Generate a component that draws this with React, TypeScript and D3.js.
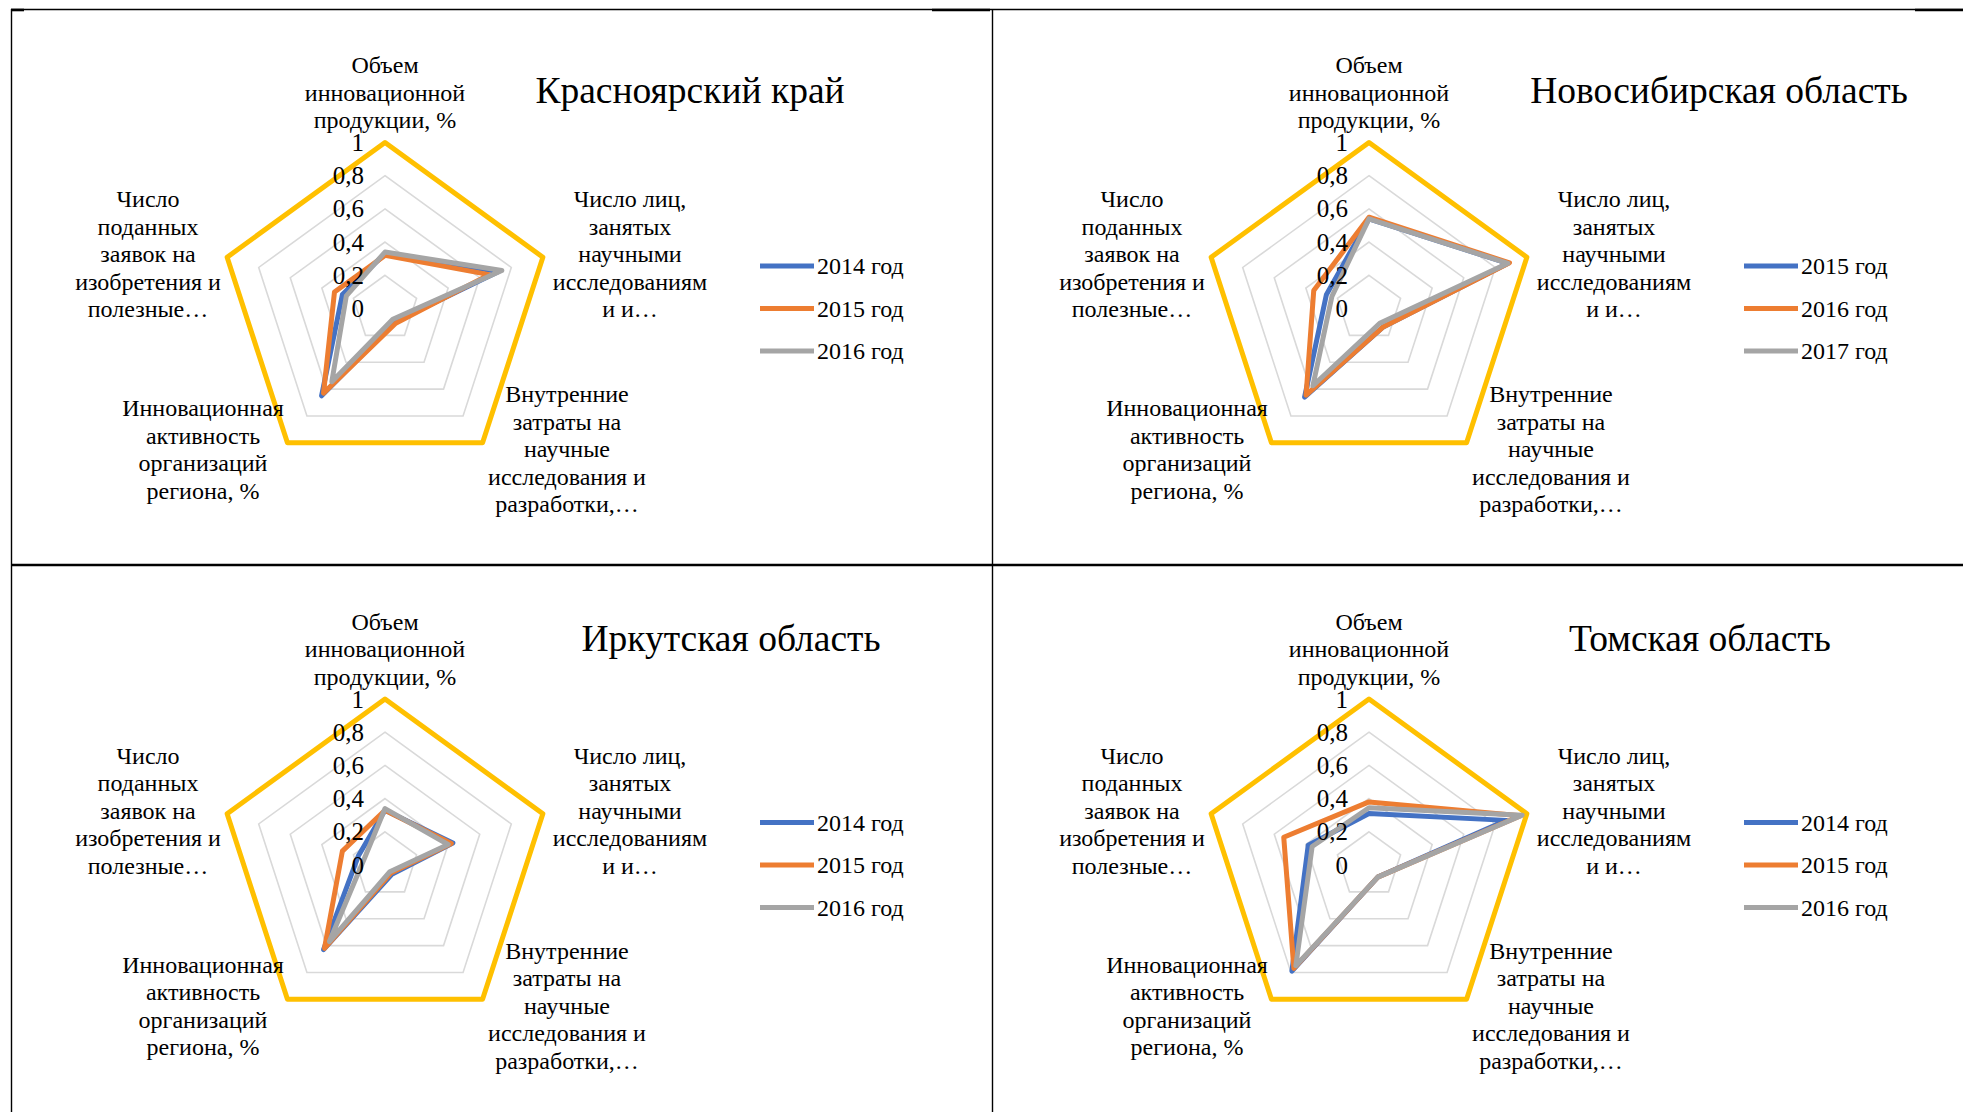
import React from "react";
import * as d3 from "d3";

// ---------- data ----------
const axisLabels: string[][] = [
  ["Объем", "инновационной", "продукции, %"],
  ["Число лиц,", "занятых", "научными", "исследованиям", "и и…"],
  ["Внутренние", "затраты на", "научные", "исследования и", "разработки,…"],
  ["Инновационная", "активность", "организаций", "региона, %"],
  ["Число", "поданных", "заявок на", "изобретения и", "полезные…"],
];
const tickValues = [0, 0.2, 0.4, 0.6, 0.8, 1];
const tickLabels = ["0", "0,2", "0,4", "0,6", "0,8", "1"];
const gridLevels = [0.2, 0.4, 0.6, 0.8];
const maxLevel = 1;

const titles = ["Красноярский край", "Новосибирская область", "Иркутская область", "Томская область"];

const yearsA = ["2014 год", "2015 год", "2016 год"];
const yearsB = ["2015 год", "2016 год", "2017 год"];

const krasnoyarskS1 = [0.33, 0.72, 0.10, 0.65, 0.27];
const krasnoyarskS2 = [0.32, 0.66, 0.11, 0.63, 0.32];
const krasnoyarskS3 = [0.34, 0.74, 0.08, 0.545, 0.245];

const novosibirskS1 = [0.54, 0.88, 0.14, 0.66, 0.27];
const novosibirskS2 = [0.55, 0.89, 0.14, 0.645, 0.35];
const novosibirskS3 = [0.54, 0.88, 0.11, 0.575, 0.235];

const irkutskS1 = [0.33, 0.43, 0.07, 0.63, 0.17];
const irkutskS2 = [0.33, 0.42, 0.06, 0.62, 0.27];
const irkutskS3 = [0.34, 0.40, 0.05, 0.57, 0.13];

const tomskS1 = [0.31, 0.87, 0.09, 0.79, 0.385];
const tomskS2 = [0.38, 0.96, 0.09, 0.77, 0.54];
const tomskS3 = [0.345, 0.97, 0.09, 0.75, 0.36];

// ---------- layout / style ----------
const W = 1963;
const H = 1112;
const R = 166;
const seriesColors = ["#4472C4", "#ED7D31", "#A5A5A5"];
const font = "'Liberation Serif', 'Times New Roman', serif";

const panels = [
  { cx: 385, cy: 308.5, title: titles[0], tx: 690, ty: 90, years: yearsA, series: [krasnoyarskS1, krasnoyarskS2, krasnoyarskS3] },
  { cx: 1369, cy: 308.5, title: titles[1], tx: 1719, ty: 90, years: yearsB, series: [novosibirskS1, novosibirskS2, novosibirskS3] },
  { cx: 385, cy: 865, title: titles[2], tx: 731, ty: 638.5, years: yearsA, series: [irkutskS1, irkutskS2, irkutskS3] },
  { cx: 1369, cy: 865, title: titles[3], tx: 1700, ty: 638.5, years: yearsA, series: [tomskS1, tomskS2, tomskS3] },
];

// label anchor offsets (center of first line) relative to chart center
const labelOffsets = [
  { dx: 0, dy: -243.5 },
  { dx: 245, dy: -109.5 },
  { dx: 182, dy: 85.5 },
  { dx: -182, dy: 99.5 },
  { dx: -237, dy: -109.5 },
];
const lineH = 27.6;
const labelSize = 24;

function Radar({ p }: { p: (typeof panels)[number] }) {
  const n = axisLabels.length;
  const r = d3.scaleLinear().domain([0, maxLevel]).range([0, R]);
  const angle = (i: number) => (i * 2 * Math.PI) / n;
  const line = d3
    .lineRadial<number>()
    .angle((_, i) => angle(i))
    .radius((d) => r(d))
    .curve(d3.curveLinearClosed);
  const ring = (v: number) => line(d3.range(n).map(() => v)) as string;

  return (
    <g>
      <g transform={`translate(${p.cx},${p.cy})`}>
        {gridLevels.map((lv) => (
          <path key={lv} d={ring(lv)} fill="none" stroke="#D9D9D9" strokeWidth={1.6} />
        ))}
        <path d={ring(maxLevel)} fill="none" stroke="#FFC000" strokeWidth={5} strokeLinejoin="round" />
        {p.series.map((s, k) => (
          <path
            key={k}
            d={line(s) as string}
            fill="none"
            stroke={seriesColors[k]}
            strokeWidth={5}
            strokeLinejoin="round"
          />
        ))}
        {tickValues.map((v, i) => (
          <text
            key={v}
            x={-21}
            y={-r(v)}
            textAnchor="end"
            dominantBaseline="central"
            fontFamily={font}
            fontSize={25}
            fill="#000"
          >
            {tickLabels[i]}
          </text>
        ))}
        {axisLabels.map((lines, i) => (
          <text
            key={i}
            textAnchor="middle"
            fontFamily={font}
            fontSize={labelSize}
            fill="#000"
          >
            {lines.map((ln, j) => (
              <tspan
                key={j}
                x={labelOffsets[i].dx}
                y={labelOffsets[i].dy + j * lineH}
                dominantBaseline="central"
              >
                {ln}
              </tspan>
            ))}
          </text>
        ))}
        {p.years.map((yr, k) => {
          const y = -42.5 + k * 42.5;
          return (
            <g key={yr}>
              <line x1={375} x2={429} y1={y} y2={y} stroke={seriesColors[k]} strokeWidth={5} />
              <text x={432} y={y} dominantBaseline="central" fontFamily={font} fontSize={labelSize} fill="#000">
                {yr}
              </text>
            </g>
          );
        })}
      </g>
      <text
        x={p.tx}
        y={p.ty}
        textAnchor="middle"
        dominantBaseline="central"
        fontFamily={font}
        fontSize={37.5}
        fill="#000"
      >
        {p.title}
      </text>
    </g>
  );
}

export default function App() {
  return (
    <svg
      width={W}
      height={H}
      style={{ position: "absolute", left: 0, top: 0, background: "#fff" }}
    >
      <rect x={0} y={0} width={W} height={H} fill="#fff" />
      {/* table borders */}
      <line x1={11} x2={W} y1={9.5} y2={9.5} stroke="#000" strokeWidth={1.4} />
      <line x1={11} x2={24} y1={10} y2={10} stroke="#000" strokeWidth={2.6} />
      <line x1={932} x2={990} y1={10} y2={10} stroke="#000" strokeWidth={2.6} />
      <line x1={1915} x2={W} y1={10} y2={10} stroke="#000" strokeWidth={2.6} />
      <line x1={11.5} x2={11.5} y1={9} y2={H} stroke="#000" strokeWidth={1.4} />
      <line x1={992.5} x2={992.5} y1={9} y2={H} stroke="#000" strokeWidth={1.4} />
      <line x1={11} x2={W} y1={565} y2={565} stroke="#000" strokeWidth={2.4} />
      {panels.map((p, i) => (
        <Radar key={i} p={p} />
      ))}
    </svg>
  );
}
